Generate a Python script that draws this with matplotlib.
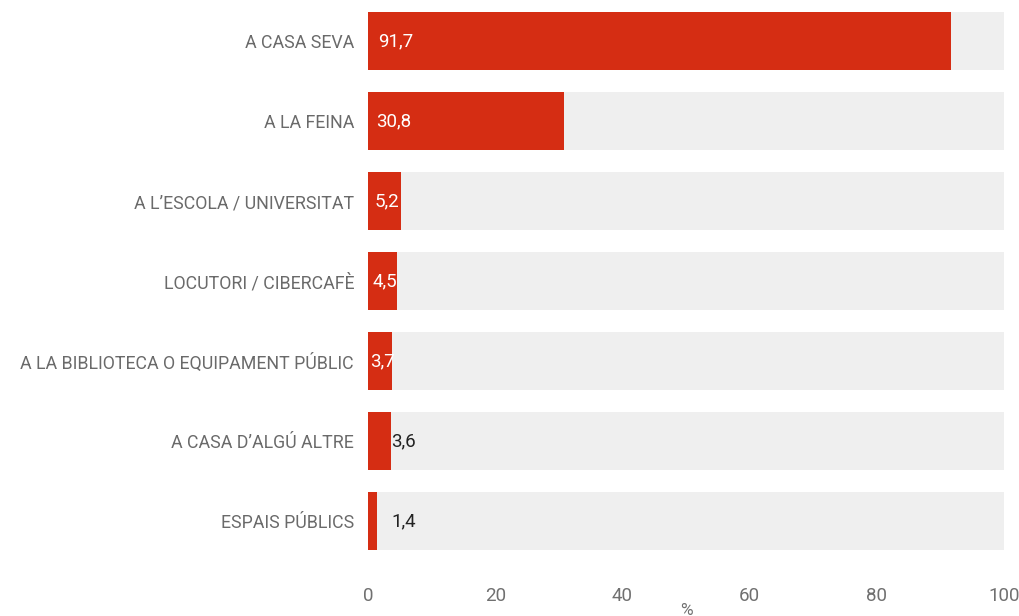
import matplotlib
matplotlib.use("Agg")
import matplotlib.pyplot as plt

categories = ["A CASA SEVA", "A LA FEINA", "A L\u2019ESCOLA / UNIVERSITAT", "LOCUTORI / CIBERCAF\u00c8",
              "A LA BIBLIOTECA O EQUIPAMENT P\u00daBLIC", "A CASA D\u2019ALG\u00da ALTRE", "ESPAIS P\u00daBLICS"]
values = [91.7, 30.8, 5.2, 4.5, 3.7, 3.6, 1.4]
labels = ["91,7", "30,8", "5,2", "4,5", "3,7", "3,6", "1,4"]
xticks = [0, 20, 40, 60, 80, 100]

plt.rcParams['font.family'] = ['Roboto', 'DejaVu Sans']

fig = plt.figure(figsize=(10.19, 6.16), dpi=100)
ax = fig.add_axes([368/1019, 1-561/616, 636/1019, 560/616])

y = list(range(len(categories)))
red = "#D52D13"
ax.barh(y, [100]*len(y), height=0.72, color="#EFEFEF", zorder=1)
ax.barh(y, values, height=0.72, color=red, zorder=2)

for i, (v, lab) in enumerate(zip(values, labels)):
    if i < 5:
        ax.annotate(lab, xy=(0, i), xytext=(7.5 - 1.5*i, 0), textcoords="offset points",
                    ha="left", va="center", color="white", fontsize=13.5, zorder=3)
    else:
        ax.annotate(lab, xy=(3.6, i), xytext=(0.5, 0), textcoords="offset points",
                    ha="left", va="center", color="#222222", fontsize=13.5, zorder=3)

ax.set_ylim(len(y)-0.5, -0.5)
ax.set_xlim(0, 100)
ax.set_yticks(y)
ax.set_yticklabels(categories, fontsize=12.8, color="#6a6a6a")
ax.set_xticks(xticks)
ax.set_xticklabels([str(t) for t in xticks], fontsize=13.5, color="#707070")
ax.tick_params(axis="both", length=0)
ax.tick_params(axis="y", pad=10)
ax.tick_params(axis="x", pad=19)
for s in ax.spines.values():
    s.set_visible(False)
ax.set_xlabel("%", fontsize=12.5, color="#707070", labelpad=-2)

fig.savefig("out.png", dpi=100)
